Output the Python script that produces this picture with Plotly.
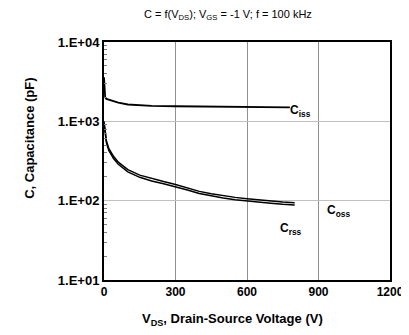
import plotly.graph_objects as go

# capacitance vs drain-source voltage
v_iss = [0, 2, 5, 10, 30, 60, 100, 150, 200, 300, 400, 500, 600, 700, 780]
c_iss = [3600, 2400, 2000, 1920, 1830, 1720, 1630, 1590, 1570, 1550, 1540, 1530, 1520, 1510, 1500]

v_oss = [0, 3, 6, 10, 20, 40, 60, 80, 100, 150, 200, 250, 300, 350, 400, 450, 500, 550, 600, 650, 700, 750, 800]
c_oss = [1000, 800, 660, 570, 455, 362, 306, 272, 246, 210, 189, 174, 160, 145, 131, 122, 115, 110, 106, 102, 99, 96, 94]
c_rss = [950, 760, 625, 540, 430, 340, 288, 256, 231, 197, 177, 163, 150, 136, 123, 114, 108, 103, 99, 96, 93, 90, 88]

ytickvals = [10, 100, 1000, 10000]
yticktext = ["1.E+01", "1.E+02", "1.E+03", "1.E+04"]
xtickvals = [0, 300, 600, 900, 1200]

fig = go.Figure()
fig.add_trace(go.Scatter(x=v_iss, y=c_iss, mode="lines", line=dict(color="black", width=1.8)))
fig.add_trace(go.Scatter(x=v_oss, y=c_oss, mode="lines", line=dict(color="black", width=1.5)))
fig.add_trace(go.Scatter(x=v_oss, y=c_rss, mode="lines", line=dict(color="black", width=1.5)))

lab = dict(family="Liberation Sans, Arial", size=12, color="black")
xtick = dict(family="Liberation Sans, Arial", size=12, color="black")
ytick = dict(family="Liberation Sans, Arial", size=13, color="black")
ttl = dict(family="Liberation Sans, Arial", size=13, color="black")

fig.add_annotation(x=772, y=3.13, xanchor="left", yanchor="middle",
                   text="<b>C<sub>iss</sub></b>", showarrow=False, font=lab)
fig.add_annotation(x=927, y=1.87, xanchor="left", yanchor="middle",
                   text="<b>C<sub>oss</sub></b>", showarrow=False, font=lab)
fig.add_annotation(x=730, y=1.64, xanchor="left", yanchor="middle",
                   text="<b>C<sub>rss</sub></b>", showarrow=False, font=lab)

# axis titles and heading, in plot-area fractions
fig.add_annotation(x=0.451, y=-0.164, xref="paper", yref="paper",
                   xanchor="center", yanchor="middle", showarrow=False, font=ttl,
                   text="<b>V<sub>DS</sub>, Drain-Source Voltage (V)</b>")
fig.add_annotation(x=-0.259, y=0.597, xref="paper", yref="paper",
                   xanchor="center", yanchor="middle", showarrow=False, font=ttl, textangle=-90,
                   text="<b>C, Capacitance (pF)</b>")
fig.add_annotation(x=0.4336, y=1.1134, xref="paper", yref="paper",
                   xanchor="center", yanchor="middle", showarrow=False,
                   font=dict(family="Liberation Sans, Arial", size=11, color="black"),
                   text="C = f(V<sub>DS</sub>); V<sub>GS</sub> = -1 V; f = 100 kHz")

# page body adds an 8px margin, so the figure is drawn a bit smaller
fig.update_layout(
    width=401, height=319,
    margin=dict(l=96, r=19, t=34, b=47, autoexpand=False),
    paper_bgcolor="white", plot_bgcolor="white",
    showlegend=False,
    font=dict(family="Liberation Sans, Arial", color="black"),
)
fig.update_xaxes(
    range=[0, 1200], tickvals=xtickvals, ticktext=["<b>%d</b>" % v for v in xtickvals],
    tickfont=xtick, showgrid=True, gridcolor="#909090", gridwidth=1, automargin=False,
    showline=True, linecolor="black", linewidth=2, mirror=True, ticks="", zeroline=False,
)
fig.update_yaxes(
    type="log", range=[1, 4], tickvals=ytickvals, ticktext=["<b>%s</b>" % t for t in yticktext],
    tickfont=ytick, showgrid=True, gridcolor="#c0c0c0", gridwidth=1, automargin=False,
    showline=True, linecolor="black", linewidth=2, mirror=True, ticks="", zeroline=False,
    minor=dict(ticks="inside", ticklen=3, tickcolor="#808080", showgrid=False,
               tickvals=[m * 10 ** d for d in range(1, 4) for m in range(2, 10)]),
)

fig.write_html("out.html")
